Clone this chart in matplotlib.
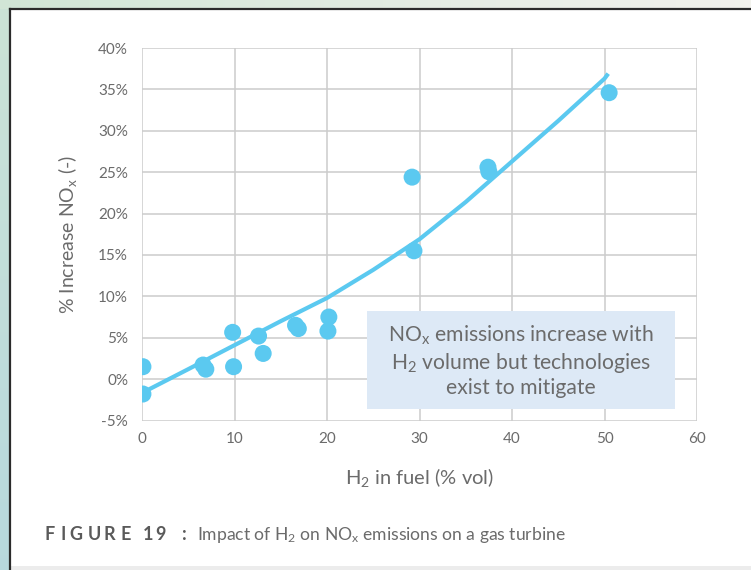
import numpy as np
import matplotlib
matplotlib.use("Agg")
import matplotlib.pyplot as plt
from matplotlib.patches import Rectangle
from matplotlib.ticker import FuncFormatter

# ===============================================================
# Data
# ===============================================================
h2_pct = [0.1, 0.1, 6.6, 6.9, 9.8, 9.9, 12.6, 13.1, 16.6, 16.9,
          20.2, 20.1, 29.2, 29.4, 37.4, 37.5, 50.5]
nox_pct = [1.5, -1.8, 1.7, 1.2, 5.65, 1.5, 5.2, 3.1, 6.5, 6.1,
           7.5, 5.8, 24.4, 15.5, 25.6, 25.05, 34.6]

trend_x = [0.3, 5, 10, 15, 20, 25, 30, 35, 40, 45, 50, 50.4]
trend_y = [-1.5, 1.2, 4.1, 7.0, 9.8, 13.2, 16.9, 21.4, 26.3, 31.2, 36.3, 36.9]

x_ticks = [0, 10, 20, 30, 40, 50, 60]
y_ticks = [-5, 0, 5, 10, 15, 20, 25, 30, 35, 40]

# ===============================================================
# Style
# ===============================================================
plt.rcParams["font.family"] = ["Lato", "DejaVu Sans"]
plt.rcParams["mathtext.fontset"] = "custom"
plt.rcParams["mathtext.rm"] = "Lato"
plt.rcParams["mathtext.it"] = "Lato:italic"

BLUE = "#5bc9f0"
GRID = "#cccccc"
TEXT = "#6b6b6b"
BOX = "#dde9f6"

DPI = 100
W, H = 751, 570
fig = plt.figure(figsize=(W / DPI, H / DPI), dpi=DPI)


def fx(px):
    return px / W


def fy(py):
    return 1 - py / H


# ---- background frame ----
bg = fig.add_axes([0, 0, 1, 1], zorder=-10)
bg.axis("off")
grad = np.linspace(0, 1, 256)
left_img = np.zeros((256, 1, 3))
left_img[:, 0, :] = np.outer(1 - grad, [0.80, 0.89, 0.84]) + np.outer(grad, [0.72, 0.85, 0.87])
bg.imshow(left_img, extent=[0, 10, H, 0], aspect="auto")
top_img = np.zeros((1, 256, 3))
top_img[0, :, :] = np.outer(1 - grad, [0.82, 0.90, 0.84]) + np.outer(grad, [0.95, 0.95, 0.93])
bg.imshow(top_img, extent=[0, W, 9, 0], aspect="auto")
bg.add_patch(Rectangle((10, 9), W - 10, 558, facecolor="white", edgecolor="none"))
bg.add_patch(Rectangle((10, 566), W - 10, 4, facecolor="#ececec", edgecolor="none"))
bg.plot([9.5, W], [9, 9], color="#2b2b2b", lw=1.6)
bg.plot([9.5, 9.5], [9, H], color="#2b2b2b", lw=1.6)
bg.set_xlim(0, W)
bg.set_ylim(H, 0)

# ---- main axes ----
ax = fig.add_axes([fx(142), fy(420.5), (697 - 142) / W, (420.5 - 48) / H])
ax.set_facecolor("none")
ax.set_xlim(0, 60)
ax.set_ylim(-5, 40)
ax.set_xticks(x_ticks)
ax.set_yticks(y_ticks)
ax.yaxis.set_major_formatter(FuncFormatter(lambda v, _: f"{v:.0f}%"))
ax.grid(True, color=GRID, lw=1.1)
ax.set_axisbelow(True)
for s in ax.spines.values():
    s.set_visible(False)
ax.tick_params(length=0, labelsize=11, colors=TEXT, pad=10)
ax.tick_params(axis="x", pad=8)

ax.plot(trend_x, trend_y, color=BLUE, lw=3.0, solid_capstyle="butt",
        solid_joinstyle="round", zorder=3)
ax.scatter(h2_pct, nox_pct, s=150, color=BLUE, edgecolor="none", zorder=4)

ax.set_xlabel(r"H$_\mathrm{2}$ in fuel (% vol)", fontsize=14.5, color=TEXT, labelpad=15)
ax.set_ylabel(r"% Increase NO$_\mathrm{x}$ (-)", fontsize=14, color=TEXT, labelpad=14)

# ---- annotation box (covers the grid) ----
fig.patches.append(Rectangle((fx(367), fy(409)), 308 / W, 98 / H, transform=fig.transFigure,
                             facecolor=BOX, edgecolor="none", zorder=2, figure=fig))
fig.text(fx(521), fy(361),
         "NO$_\\mathrm{x}$ emissions increase with\nH$_\\mathrm{2}$ volume but technologies\nexist to mitigate",
         ha="center", va="center", fontsize=15.2, color=TEXT, linespacing=1.2, zorder=5)

# ---- caption ----
caption_chars = ["F", "I", "G", "U", "R", "E", "1", "9", ":"]
caption_x = [44, 60, 69, 88, 104, 120, 143, 155, 182]
for ch, px in zip(caption_chars, caption_x):
    fig.text(fx(px), fy(535), ch, fontsize=13, fontweight="bold",
             color="#5a5a5a", ha="left", va="center")
fig.text(fx(197), fy(535),
         r"Impact of H$_\mathrm{2}$ on NO$_\mathrm{x}$ emissions on a gas turbine",
         fontsize=12.6, color=TEXT, ha="left", va="center")

fig.savefig("out.png", dpi=DPI)
